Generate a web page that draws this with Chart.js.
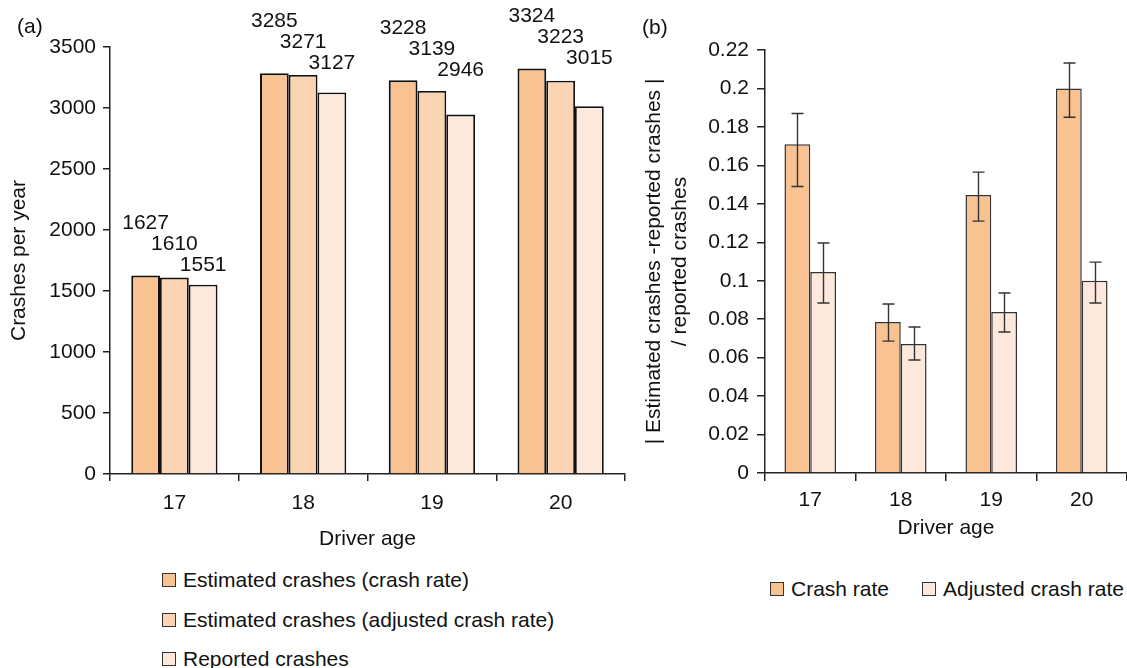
<!DOCTYPE html>
<html>
<head>
<meta charset="utf-8">
<script src="https://cdn.jsdelivr.net/npm/chart.js@4/dist/chart.umd.min.js"></script>
<style>
  html, body { margin: 0; padding: 0; background: #fff; }
  body { width: 1127px; height: 668px; position: relative; overflow: hidden;
         font-family: "Liberation Sans", Arial, sans-serif; color: #111; }
  .wrap { position: absolute; top: 0; }
  .panel { position: absolute; font-size: 21px; }
  .leg { position: absolute; font-size: 21px; white-space: nowrap; }
  .leg .item { position: absolute; display: flex; align-items: center; height: 26px; }
  .leg .box { width: 12px; height: 12px; border: 1px solid #333; margin-right: 7px; }
</style>
</head>
<body>
<div class="wrap" style="left:0;width:640px;height:560px;"><canvas id="ca" width="640" height="560"></canvas></div>
<div class="wrap" style="left:640px;width:487px;height:560px;"><canvas id="cb" width="487" height="560"></canvas></div>
<div class="panel" style="left:17px;top:14px;">(a)</div>
<div class="panel" style="left:642px;top:15px;">(b)</div>
<div class="leg" id="legA"></div>
<div class="leg" id="legB"></div>
<script>
// ---------- data ----------
const ages = ['17', '18', '19', '20'];

// panel (a): crashes per year
const estCrashRate = [1627, 3285, 3228, 3324];
const estAdjustedRate = [1610, 3271, 3139, 3223];
const reportedCrashes = [1551, 3127, 2946, 3015];
const seriesNamesA = ['Estimated crashes (crash rate)', 'Estimated crashes (adjusted crash rate)', 'Reported crashes'];
const yTicksA = [0, 500, 1000, 1500, 2000, 2500, 3000, 3500];

// panel (b): |estimated - reported| / reported
const crashRateRel = [0.171, 0.0785, 0.1446, 0.200];
const crashRateLow = [0.149, 0.0686, 0.131, 0.185];
const crashRateHigh = [0.187, 0.0879, 0.1565, 0.2132];
const adjRateRel = [0.1045, 0.0671, 0.0837, 0.100];
const adjRateLow = [0.0884, 0.0588, 0.0733, 0.0884];
const adjRateHigh = [0.1196, 0.0759, 0.0936, 0.1097];
const seriesNamesB = ['Crash rate', 'Adjusted crash rate'];
const yTicksB = ['0', '0.02', '0.04', '0.06', '0.08', '0.1', '0.12', '0.14', '0.16', '0.18', '0.2', '0.22'];

// ---------- style ----------
const C1 = '#F8C292', C2 = '#FBD4B4', C3 = '#FDE9DB';
const FONT = '"Liberation Sans", Arial, sans-serif';
const AX = '#222';
Chart.defaults.font.family = FONT;
Chart.defaults.font.size = 21;
Chart.defaults.color = '#111';

// value labels above bars of panel (a), staggered
const stackedLabels = {
  id: 'stackedLabels',
  afterDatasetsDraw(chart) {
    const ctx = chart.ctx;
    const n = chart.data.datasets.length;
    ctx.save();
    ctx.font = '21px ' + FONT;
    ctx.fillStyle = '#111';
    ctx.textAlign = 'center';
    ctx.textBaseline = 'middle';
    chart.data.labels.forEach((_, j) => {
      const bars = [];
      for (let k = 0; k < n; k++) bars.push(chart.getDatasetMeta(k).data[j]);
      const minTop = Math.min(...bars.map(b => b.y));
      bars.forEach((b, k) => {
        ctx.fillText(String(chart.data.datasets[k].data[j]), b.x, minTop - 52 + 21 * k);
      });
    });
    ctx.restore();
  }
};

// error bars for panel (b)
const errorBars = {
  id: 'errorBars',
  afterDatasetsDraw(chart) {
    const ctx = chart.ctx;
    const y = chart.scales.y;
    ctx.save();
    ctx.strokeStyle = '#333';
    ctx.lineWidth = 1.4;
    chart.data.datasets.forEach((ds, k) => {
      const meta = chart.getDatasetMeta(k);
      meta.data.forEach((bar, j) => {
        const lo = y.getPixelForValue(ds.errLow[j]);
        const hi = y.getPixelForValue(ds.errHigh[j]);
        const x = Math.round(bar.x) + 0.5;
        ctx.beginPath();
        ctx.moveTo(x, lo); ctx.lineTo(x, hi);
        ctx.moveTo(x - 6, lo); ctx.lineTo(x + 6, lo);
        ctx.moveTo(x - 6, hi); ctx.lineTo(x + 6, hi);
        ctx.stroke();
      });
    });
    ctx.restore();
  }
};

function xAxis(height, tickLen, tickPad, titlePadBottom) {
  return {
    type: 'category',
    offset: true,
    grid: { offset: true, drawOnChartArea: false, drawTicks: true, tickLength: tickLen, color: AX, lineWidth: 1.5 },
    border: { display: true, color: AX, width: 1.5 },
    ticks: { padding: tickPad, color: '#111', font: { size: 21 } },
    title: { display: true, text: 'Driver age', color: '#111', font: { size: 21 }, padding: { top: 0, bottom: titlePadBottom } },
    afterFit(s) { s.height = height; }
  };
}

// ---------- panel (a) ----------
new Chart(document.getElementById('ca'), {
  type: 'bar',
  data: {
    labels: ages,
    datasets: [
      { label: seriesNamesA[0], data: estCrashRate, backgroundColor: C1, borderColor: '#111', borderWidth: 2 },
      { label: seriesNamesA[1], data: estAdjustedRate, backgroundColor: C2, borderColor: '#111', borderWidth: 1.8 },
      { label: seriesNamesA[2], data: reportedCrashes, backgroundColor: C3, borderColor: '#111', borderWidth: 1.8 }
    ]
  },
  options: {
    responsive: false,
    devicePixelRatio: 1,
    animation: false,
    layout: { padding: { top: 47, left: 0, right: 15, bottom: 0 } },
    datasets: { bar: { categoryPercentage: 0.67, barPercentage: 1.0 } },
    plugins: { legend: { display: false }, tooltip: { enabled: false } },
    scales: {
      x: xAxis(86, 7, 10, 8),
      y: {
        min: 0, max: 3500,
        afterBuildTicks(s) { s.ticks = yTicksA.map(v => ({ value: v })); },
        grid: { drawOnChartArea: false, drawTicks: true, tickLength: 7, color: AX, lineWidth: 1.5 },
        border: { display: true, color: AX, width: 1.5 },
        ticks: { padding: 7, color: '#111', font: { size: 21 }, callback: v => String(v) },
        title: { display: true, text: 'Crashes per year', color: '#111', font: { size: 21 }, padding: { top: 7, bottom: 0 } },
        afterFit(s) { s.width = 110; }
      }
    }
  },
  plugins: [stackedLabels]
});

// ---------- panel (b) ----------
new Chart(document.getElementById('cb'), {
  type: 'bar',
  data: {
    labels: ages,
    datasets: [
      { label: seriesNamesB[0], data: crashRateRel, errLow: crashRateLow, errHigh: crashRateHigh, backgroundColor: C1, borderColor: '#333', borderWidth: 1.5 },
      { label: seriesNamesB[1], data: adjRateRel, errLow: adjRateLow, errHigh: adjRateHigh, backgroundColor: C3, borderColor: '#333', borderWidth: 1.5 }
    ]
  },
  options: {
    responsive: false,
    devicePixelRatio: 1,
    animation: false,
    layout: { padding: { top: 50, left: 0, right: 0, bottom: 0 } },
    datasets: { bar: { categoryPercentage: 0.57, barPercentage: 1.0 } },
    plugins: { legend: { display: false }, tooltip: { enabled: false } },
    scales: {
      x: xAxis(87, 8, 7, 19),
      y: {
        min: 0, max: 0.22,
        afterBuildTicks(s) { s.ticks = yTicksB.map(v => ({ value: parseFloat(v) })); },
        grid: { drawOnChartArea: false, drawTicks: true, tickLength: 8, color: AX, lineWidth: 1.5 },
        border: { display: true, color: AX, width: 1.5 },
        ticks: { padding: 8, color: '#111', font: { size: 21 }, callback: (v, i) => yTicksB[i] },
        title: { display: true, text: ['| Estimated crashes -reported crashes |', '/ reported crashes'], color: '#111', font: { size: 21 }, padding: { top: 2, bottom: 0 } },
        afterFit(s) { s.width = 125; }
      }
    }
  },
  plugins: [errorBars]
});

// ---------- HTML legends ----------
function buildLegend(el, names, colors, positions) {
  names.forEach((n, i) => {
    const it = document.createElement('div');
    it.className = 'item';
    it.style.left = positions[i][0] + 'px';
    it.style.top = positions[i][1] + 'px';
    const b = document.createElement('span');
    b.className = 'box';
    b.style.background = colors[i];
    const t = document.createElement('span');
    t.textContent = n;
    it.appendChild(b); it.appendChild(t);
    el.appendChild(it);
  });
}
buildLegend(document.getElementById('legA'), seriesNamesA, [C1, C2, C3], [[162, 567], [162, 607], [162, 646]]);
buildLegend(document.getElementById('legB'), seriesNamesB, [C1, C3], [[770, 576], [922, 576]]);
</script>
</body>
</html>
